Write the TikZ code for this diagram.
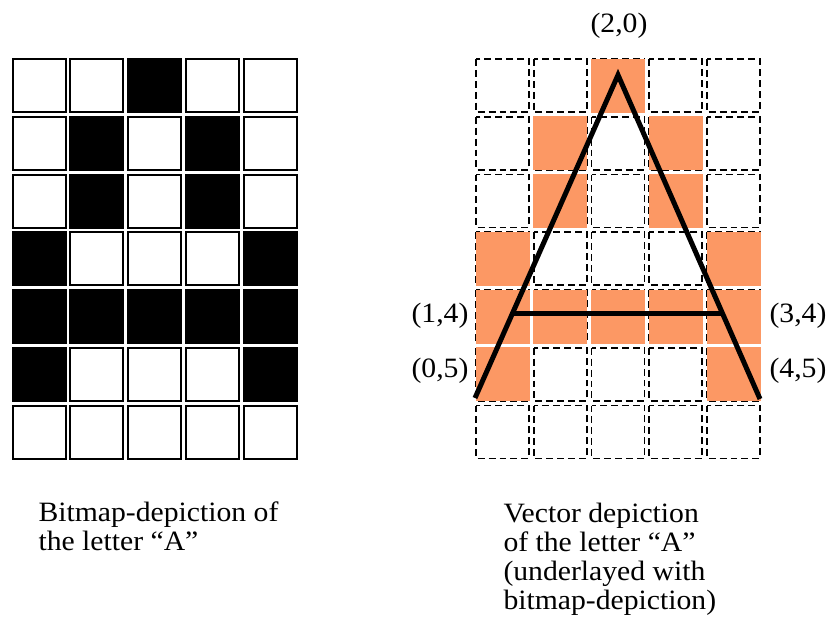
\documentclass[tikz,border=0pt]{standalone}
\usepackage{fontspec}
\setmainfont[FakeStretch=1.06]{Liberation Serif}
\definecolor{bitorange}{RGB}{252,152,100}
\tikzset{every picture/.style={line width=0.75pt}}
\begin{document}
\begin{tikzpicture}[x=0.75pt,y=0.75pt,yscale=-1,xscale=1,
  pixel/.style={draw, line width=1.5},
  ghost/.style={draw, line width=1.3, dash pattern={on 5.2pt off 3pt}},
  coordlabel/.style={font=\fontsize{21}{21.6}\selectfont, inner sep=0pt},
  caption/.style={coordlabel, align=left, anchor=north west}]
%set diagram size to 827 x 622
\path (0,0) rectangle (827,622);

%Bitmap grid (left)
\foreach \c in {0,...,4}
  \foreach \r in {0,...,6}
    \draw [pixel] ({12.5+57.75*\c},{59+57.75*\r}) rectangle ++(53,53);
\foreach \c/\r in {2/0,1/1,3/1,1/2,3/2,0/3,4/3,0/4,1/4,2/4,3/4,4/4,0/5,4/5}
  \draw [pixel, fill=black] ({12.5+57.75*\c},{59+57.75*\r}) rectangle ++(53,53);

%Dashed grid (right)
\foreach \c in {0,...,4}
  \foreach \r in {0,...,6}
    \draw [ghost] ({476+57.75*\c},{59+57.75*\r}) rectangle ++(53,53);
\foreach \c/\r in {2/0,1/1,3/1,1/2,3/2,0/3,4/3,0/4,1/4,2/4,3/4,4/4,0/5,4/5}
  \fill [bitorange] ({475.5+57.75*\c},{58.5+57.75*\r}) rectangle ++(54,54);

%Vector letter A
\coordinate (apex) at (618,75);
\coordinate (footL) at (475,398);
\coordinate (footR) at (760,399);
\coordinate (barL) at (514,313);
\coordinate (barR) at (722,313);
\draw [line width=3.75, miter limit=10] (footL) -- (apex) -- (footR);
\draw [line width=3.75] (barL) -- (barR);

% Text Node
\node [coordlabel] (lblTop) at (619,26) {(2,0)};
\node [coordlabel] (lblBarL) at (440,316) {(1,4)};
\node [coordlabel] (lblFootL) at (440,371) {(0,5)};
\node [coordlabel] (lblBarR) at (798,316) {(3,4)};
\node [coordlabel] (lblFootR) at (798,371) {(4,5)};
% Text Node
\node [caption] (capBitmap) at (38,501) {Bitmap-depiction of\\the letter “A”};
\node [caption] (capVector) at (503,503) {Vector depiction\\of the letter “A”\\(underlayed with\\bitmap-depiction)};

\end{tikzpicture}
\end{document}
